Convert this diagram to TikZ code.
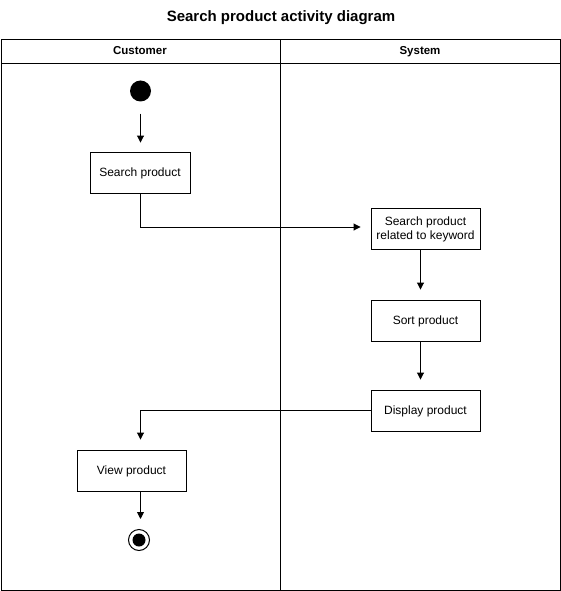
\documentclass[tikz,border=0pt]{standalone}
\usepackage{fontspec}
\setmainfont{Liberation Sans}
\usetikzlibrary{arrows.meta}
\begin{document}
\begin{tikzpicture}[x=1pt,y=-1pt,
  lane/.style={draw,line width=1pt},
  act/.style={draw,line width=0.9pt,minimum width=109pt,minimum height=41pt,inner sep=0pt,
    font=\fontsize{12}{14}\selectfont,align=center,text depth=1.5pt},
  flow/.style={line width=0.9pt,-{Triangle[length=7pt,width=7pt]}},
  hdr/.style={font=\bfseries\fontsize{11.5}{13}\selectfont,text height=8.5pt,text depth=2.5pt}]
\useasboundingbox (0,0) rectangle (561,591);
% title
\node[font=\bfseries\fontsize{15}{17}\selectfont] (title) at (281,17.5) {Search product activity diagram};
% swimlanes
\draw[lane] (1,40) rectangle (560,590);
\draw[lane] (1,63.5) -- (560,63.5);
\draw[lane] (280.5,40) -- (280.5,590);
\node[hdr] (customer) at (140,51.5) {Customer};
\node[hdr] (system) at (420,51.5) {System};
% initial node
\node[circle,fill=black,minimum size=21pt,inner sep=0pt] (start) at (140.5,91) {};
% activities
\node[act,minimum width=100pt] (search) at (140,172.5) {Search product};
\node[act] (query) at (425.5,228.5) {Search product\\related to keyword};
\node[act] (sort) at (425.5,320.5) {Sort product};
\node[act] (display) at (425.5,410.5) {Display product};
\node[act] (view) at (131.5,470.5) {View product};
% final node
\node[circle,draw,line width=1pt,minimum size=21pt,inner sep=0pt] (final) at (139,540) {};
\node[circle,fill=black,minimum size=13pt,inner sep=0pt] (finalin) at (final.center) {};
% waypoints
\coordinate (c1) at (140.5,227);
\coordinate (c2) at (140.5,410);
% flows
\draw[flow,shorten <=12pt,shorten >=9pt] (start.south) -- (search.north -| start.south);
\draw[flow,shorten >=10pt] (search.south -| c1) -- (c1) -- (query.west |- c1);
\draw[flow,shorten >=10pt] (query.south -| 420.5,0) -- (sort.north -| 420.5,0);
\draw[flow,shorten >=10pt] (sort.south -| 420.5,0) -- (display.north -| 420.5,0);
\draw[flow,shorten >=10pt] (display.west |- c2) -- (c2) -- (view.north -| c2);
\draw[flow,shorten >=10pt] (view.south -| 140.5,0) -- (final.north -| 140.5,0);
\end{tikzpicture}
\end{document}
